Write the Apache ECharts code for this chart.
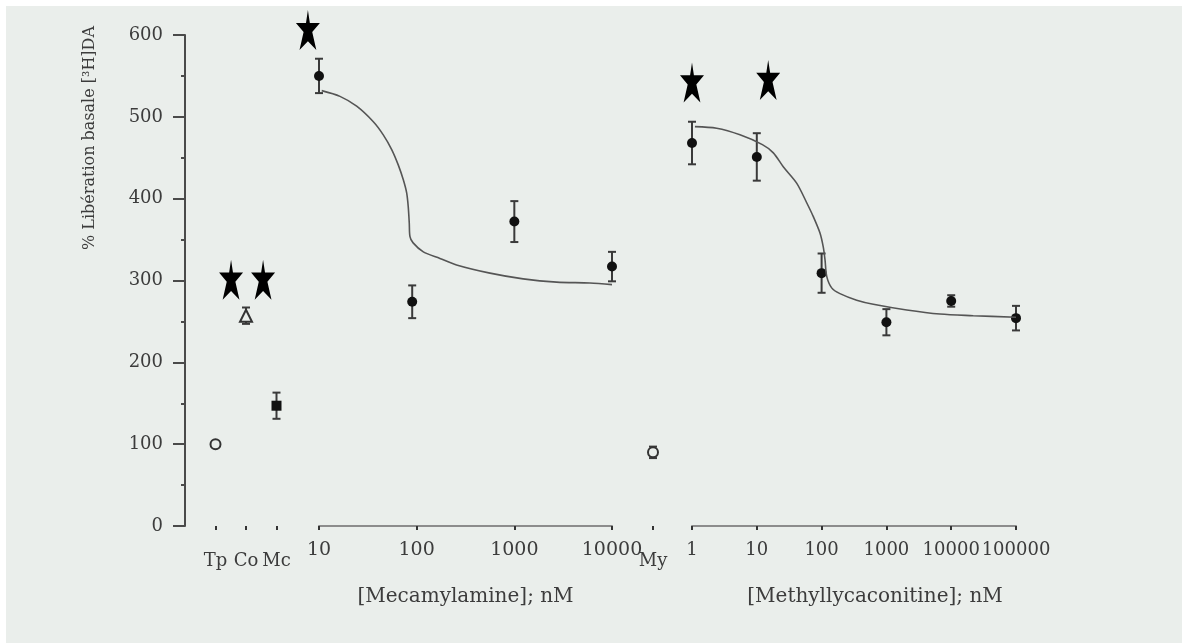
<!DOCTYPE html>
<html>
<head>
<meta charset="utf-8">
<script src="https://cdn.jsdelivr.net/npm/echarts@6/dist/echarts.min.js"></script>
<style>
html,body{margin:0;padding:0;background:#ffffff;width:1182px;height:643px;overflow:hidden}
#bg{position:absolute;left:6px;top:6px;right:0;bottom:0;background:#eaeeeb}
#c{position:absolute;left:0;top:0;width:1182px;height:643px}
</style>
</head>
<body>
<div id="bg"></div>
<div id="c"></div>
<script>
// ---- data ----
const catLabels = ['Tp', 'Co', 'Mc'];
const catX = [1, 2, 3];
const tpValue = 100;
const coValue = 257, coErr = 10;
const mcValue = 147, mcErr = 16;
const starsCatX = [1.51, 2.56];
const starsCatY = [301, 301];

const mecX = [10, 90, 1000, 10000];
const mecY = [550, 274, 372, 317];
const mecErr = [21, 20, 25, 18];
const mecFitX = [10.66, 16.4, 24.3, 36, 45.5, 55.5, 64.9, 73, 79, 82, 84, 85.3, 92, 117, 173, 256, 563, 1230, 2710, 5940, 10000];
const mecFitY = [532, 525, 513, 494, 478, 460, 441, 423, 407, 390, 370, 354, 346, 335, 327, 319, 309, 302, 298, 297, 295];
const mecStarX = [7.7];
const mecStarY = [606];

const myLabels = ['My'];
const myValue = 90, myErr = 7;

const mlaX = [1, 10, 100, 1000, 10000, 100000];
const mlaY = [468, 451, 309, 249, 275, 254];
const mlaErr = [26, 29, 24, 16, 7, 15];
const mlaFitX = [1.11, 2.4, 5.5, 12.2, 18, 25.6, 41.2, 58.9, 74.5, 94.4, 106, 113, 120, 143, 192, 348, 628, 2060, 6710, 21900, 100000];
const mlaFitY = [488, 486, 478, 466, 456, 439, 419, 395, 378, 358, 341, 325, 305, 291, 284, 276, 271, 264, 259, 257, 255];
const mlaStarX = [1, 15];
const mlaStarY = [542, 545];

const yTitle = '% Libération basale [³H]DA';
const mecTitle = '[Mecamylamine]; nM';
const mlaTitle = '[Methyllycaconitine]; nM';

// ---- chart ----
const FONT = 'DejaVu Serif';
const TXT = '#3c3c3c';
const STAR = 'path://M50,0 L58,32 L100,32 L68,55 L85,100 L50,78 L15,100 L32,55 L0,32 L42,32 Z';
const STAR_SIZE = [24, 40];
const zip = (a, b) => a.map((v, i) => [v, b[i]]);
const zip3 = (a, b, c) => a.map((v, i) => [v, b[i], c[i]]);

function errBar(params, api) {
  const x = api.value(0), y = api.value(1), e = api.value(2);
  const t = api.coord([x, y + e]), b = api.coord([x, y - e]);
  const hw = 4;
  const st = { stroke: '#3a3a3a', lineWidth: 2 };
  return {
    type: 'group',
    children: [
      { type: 'line', shape: { x1: t[0], y1: t[1], x2: b[0], y2: b[1] }, style: st },
      { type: 'line', shape: { x1: t[0] - hw, y1: t[1], x2: t[0] + hw, y2: t[1] }, style: st },
      { type: 'line', shape: { x1: b[0] - hw, y1: b[1], x2: b[0] + hw, y2: b[1] }, style: st }
    ]
  };
}

const gridTop = 35, gridBottom = 643 - 526;
const hiddenY = (i) => ({ gridIndex: i, type: 'value', min: 0, max: 600, show: false });
const logLabel = { fontFamily: FONT, fontSize: 19, color: TXT, margin: 12, formatter: v => String(Math.round(v)) };
const titleStyle = { fontFamily: FONT, fontSize: 20, color: TXT };

const option = {
  animation: false,
  backgroundColor: 'transparent',
  textStyle: { fontFamily: FONT },
  grid: [
    { left: 185, width: 106.75, top: gridTop, bottom: gridBottom },
    { left: 319, width: 293, top: gridTop, bottom: gridBottom },
    { left: 633, width: 40, top: gridTop, bottom: gridBottom },
    { left: 692, width: 324, top: gridTop, bottom: gridBottom }
  ],
  xAxis: [
    {
      gridIndex: 0, type: 'value', min: 0, max: 3.5, offset: 3,
      axisLine: { show: false }, splitLine: { show: false },
      axisTick: { show: true, customValues: catX, length: 4, lineStyle: { color: '#333', width: 2 } },
      axisLabel: { customValues: catX, fontFamily: FONT, fontSize: 18, color: TXT, margin: 23,
        formatter: v => catLabels[catX.indexOf(Math.round(v))] || '' }
    },
    {
      gridIndex: 1, type: 'log', logBase: 10, min: 10, max: 10000, offset: 3,
      axisLine: { show: true, lineStyle: { color: '#8c8c8c', width: 2 } },
      axisTick: { show: true, length: 4, lineStyle: { color: '#333', width: 2 } },
      minorTick: { show: false }, splitLine: { show: false },
      axisLabel: logLabel,
      name: mecTitle, nameLocation: 'middle', nameGap: 58,
      nameTextStyle: titleStyle
    },
    {
      gridIndex: 2, type: 'category', data: myLabels, offset: 3,
      axisLine: { show: false },
      axisTick: { show: true, alignWithLabel: true, length: 4, lineStyle: { color: '#333', width: 2 } },
      axisLabel: { fontFamily: FONT, fontSize: 18, color: TXT, margin: 23 }
    },
    {
      gridIndex: 3, type: 'log', logBase: 10, min: 1, max: 100000, offset: 3,
      axisLine: { show: true, lineStyle: { color: '#8c8c8c', width: 2 } },
      axisTick: { show: true, length: 4, lineStyle: { color: '#333', width: 2 } },
      minorTick: { show: false }, splitLine: { show: false },
      axisLabel: Object.assign({}, logLabel, { fontSize: 18 }),
      name: mlaTitle, nameLocation: 'middle', nameGap: 58,
      nameTextStyle: Object.assign({}, titleStyle, { padding: [0, 0, 0, 42] })
    }
  ],
  yAxis: [
    {
      gridIndex: 0, type: 'value', min: 0, max: 600, interval: 100,
      axisLine: { show: true, lineStyle: { color: '#4a4a4a', width: 2 } },
      axisTick: { show: true, length: 12, lineStyle: { color: '#4a4a4a', width: 2 } },
      minorTick: { show: true, splitNumber: 2, length: 4, lineStyle: { color: '#4a4a4a', width: 2 } },
      splitLine: { show: false },
      axisLabel: { fontFamily: FONT, fontSize: 18, color: TXT, margin: 22 }
    },
    hiddenY(1), hiddenY(2), hiddenY(3)
  ],
  graphic: [
    {
      type: 'text', x: 90, y: 138, rotation: Math.PI / 2,
      style: { text: yTitle, fontFamily: FONT, fontSize: 16, fill: TXT, align: 'center', verticalAlign: 'middle' }
    }
  ],
  series: [
    // categorical block
    { type: 'custom', xAxisIndex: 0, yAxisIndex: 0, renderItem: errBar, encode: { x: 0, y: 1 },
      data: [[catX[1], coValue, coErr], [catX[2], mcValue, mcErr]] },
    { type: 'scatter', xAxisIndex: 0, yAxisIndex: 0, symbol: 'circle', symbolSize: 10,
      itemStyle: { color: '#eaeeeb', borderColor: '#333', borderWidth: 2, opacity: 1 }, data: [[catX[0], tpValue]] },
    { type: 'scatter', xAxisIndex: 0, yAxisIndex: 0, symbol: 'triangle', symbolSize: 12,
      itemStyle: { color: '#eaeeeb', borderColor: '#333', borderWidth: 2, opacity: 1 }, data: [[catX[1], coValue]] },
    { type: 'scatter', xAxisIndex: 0, yAxisIndex: 0, symbol: 'rect', symbolSize: 10,
      itemStyle: { color: '#111', opacity: 1 }, data: [[catX[2], mcValue]] },
    { type: 'scatter', xAxisIndex: 0, yAxisIndex: 0, symbol: STAR, symbolSize: STAR_SIZE, clip: false,
      itemStyle: { color: '#000', opacity: 1 }, data: zip(starsCatX, starsCatY) },

    // mecamylamine
    { type: 'line', xAxisIndex: 1, yAxisIndex: 1, data: zip(mecFitX, mecFitY), showSymbol: false,
      smooth: 0.3, lineStyle: { color: '#555', width: 1.6 } },
    { type: 'custom', xAxisIndex: 1, yAxisIndex: 1, renderItem: errBar, encode: { x: 0, y: 1 },
      data: zip3(mecX, mecY, mecErr) },
    { type: 'scatter', xAxisIndex: 1, yAxisIndex: 1, symbol: 'circle', symbolSize: 10, clip: false,
      itemStyle: { color: '#111', opacity: 1 }, data: zip(mecX, mecY) },
    { type: 'scatter', xAxisIndex: 1, yAxisIndex: 1, symbol: STAR, symbolSize: STAR_SIZE, clip: false,
      itemStyle: { color: '#000', opacity: 1 }, data: zip(mecStarX, mecStarY) },

    // My
    { type: 'custom', xAxisIndex: 2, yAxisIndex: 2, renderItem: errBar, encode: { x: 0, y: 1 },
      data: [[0, myValue, myErr]] },
    { type: 'scatter', xAxisIndex: 2, yAxisIndex: 2, symbol: 'circle', symbolSize: 10,
      itemStyle: { color: '#eaeeeb', borderColor: '#333', borderWidth: 2, opacity: 1 }, data: [[0, myValue]] },

    // methyllycaconitine
    { type: 'line', xAxisIndex: 3, yAxisIndex: 3, data: zip(mlaFitX, mlaFitY), showSymbol: false,
      smooth: 0.3, lineStyle: { color: '#555', width: 1.6 } },
    { type: 'custom', xAxisIndex: 3, yAxisIndex: 3, renderItem: errBar, encode: { x: 0, y: 1 },
      data: zip3(mlaX, mlaY, mlaErr) },
    { type: 'scatter', xAxisIndex: 3, yAxisIndex: 3, symbol: 'circle', symbolSize: 10, clip: false,
      itemStyle: { color: '#111', opacity: 1 }, data: zip(mlaX, mlaY) },
    { type: 'scatter', xAxisIndex: 3, yAxisIndex: 3, symbol: STAR, symbolSize: STAR_SIZE, clip: false,
      itemStyle: { color: '#000', opacity: 1 }, data: zip(mlaStarX, mlaStarY) }
  ]
};

const chart = echarts.init(document.getElementById('c'), null, { renderer: 'canvas' });
chart.setOption(option);
</script>
</body>
</html>
